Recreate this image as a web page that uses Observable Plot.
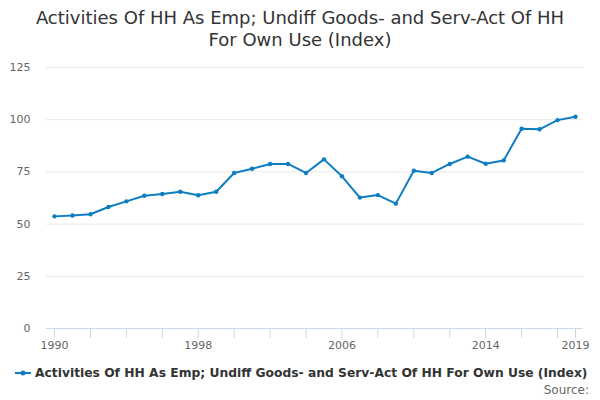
<!DOCTYPE html>
<html>
<head>
<meta charset="utf-8">
<script src="https://cdn.jsdelivr.net/npm/d3@7"></script>
<script src="https://cdn.jsdelivr.net/npm/@observablehq/plot@0.6"></script>
<style>
  html, body { margin: 0; padding: 0; background: #fff; }
  body { width: 600px; height: 400px; position: relative; overflow: hidden; font-family: "DejaVu Sans", sans-serif; }
  #title { position: absolute; top: 7px; left: 0; width: 600px; text-align: center; font-size: 18px; line-height: 22px; color: #333; }
  #chart { position: absolute; top: 51px; left: 0; }
  #legend { position: absolute; top: 366px; left: 15px; width: 580px; font-size: 12.3px; font-weight: bold; color: #333; display: flex; align-items: center; white-space: nowrap; }
  #legend svg { margin-right: 4px; flex: none; }
  #source { position: absolute; top: 383px; right: 11px; font-size: 12px; color: #666; }
</style>
</head>
<body>
<div id="title">Activities Of HH As Emp; Undiff Goods- and Serv-Act Of HH<br>For Own Use (Index)</div>
<div id="chart"></div>
<div id="legend"><svg width="16" height="10"><line x1="0" x2="16" y1="5" y2="5" stroke="#0f7dc2" stroke-width="2"/><circle cx="8" cy="5" r="2.5" fill="#0f7dc2"/></svg><span>Activities Of HH As Emp; Undiff Goods- and Serv-Act Of HH For Own Use (Index)</span></div>
<div id="source">Source:</div>
<script>
const years = d3.range(1990, 2020);
const values = [53.7, 54.1, 54.7, 58.2, 60.9, 63.6, 64.4, 65.5, 63.8, 65.5,
                74.5, 76.5, 78.8, 78.8, 74.5, 81.0, 72.9, 62.7, 63.9, 59.8,
                75.6, 74.5, 78.8, 82.3, 78.9, 80.5, 95.7, 95.4, 99.8, 101.4];
const xTicks = [1990, 1992, 1994, 1996, 1998, 2000, 2002, 2004, 2006, 2008, 2010, 2012, 2014, 2016, 2018, 2019];
const xLabels = [1990, 1998, 2006, 2014, 2019];
const yTicks = [0, 25, 50, 75, 100, 125];

const data = years.map((y, i) => ({year: y, value: values[i]}));
const color = "#0f7dc2";

const chart = Plot.plot({
  width: 600,
  height: 310,
  marginTop: 16,
  marginBottom: 33,
  marginLeft: 46,
  marginRight: 17,
  insetLeft: 8,
  insetRight: 8,
  style: {fontFamily: "DejaVu Sans, sans-serif", fontSize: "11px", color: "#666"},
  x: {domain: [1990, 2019]},
  y: {domain: [0, 125]},
  marks: [
    Plot.ruleY(yTicks.filter(d => d > 0), {stroke: "#e6e6e6", strokeWidth: 1}),
    Plot.axisY({ticks: yTicks, tickSize: 0, tickPadding: 16, label: null, fill: "#666"}),
    Plot.ruleY([0], {stroke: "#ccd6eb", strokeWidth: 1}),
    Plot.axisX({ticks: xTicks, tickSize: 10, stroke: "#ccd6eb", tickPadding: 3, label: null, fill: "#666",
      tickFormat: d => xLabels.includes(d) ? String(d) : ""}),
    Plot.line(data, {x: "year", y: "value", stroke: color, strokeWidth: 2}),
    Plot.dot(data, {x: "year", y: "value", fill: color, r: 2.2})
  ]
});
document.getElementById("chart").appendChild(chart);
</script>
</body>
</html>
